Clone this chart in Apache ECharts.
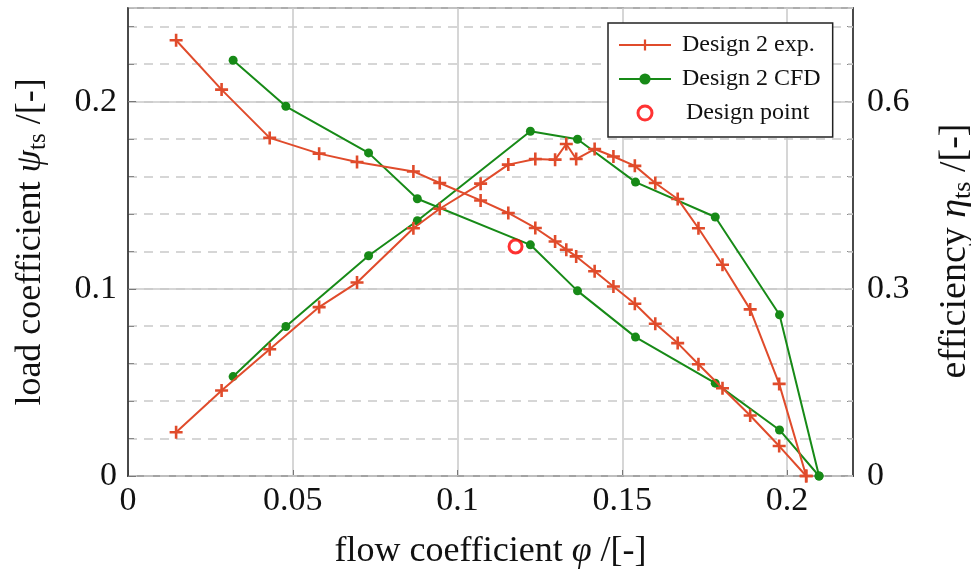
<!DOCTYPE html>
<html>
<head>
<meta charset="utf-8">
<script src="https://cdn.jsdelivr.net/npm/echarts@6/dist/echarts.min.js"></script>
<style>
html,body{margin:0;padding:0;background:#fff;overflow:hidden;}
#c{width:971px;height:572px;}
</style>
</head>
<body>
<div id="c"></div>
<script>
// ---- data ----
const expPhi  = [0.0146, 0.0284, 0.043, 0.058, 0.0695, 0.0866, 0.0946, 0.107, 0.1154, 0.1236, 0.1296, 0.133, 0.136, 0.1416, 0.1473, 0.1538, 0.16, 0.1668, 0.1731, 0.1804, 0.1888, 0.1976, 0.2058];
const expLoad = [0.2328, 0.2064, 0.1806, 0.1722, 0.1677, 0.1627, 0.1565, 0.1472, 0.1405, 0.1325, 0.1253, 0.1209, 0.1173, 0.1094, 0.1012, 0.092, 0.0813, 0.071, 0.0597, 0.0469, 0.0323, 0.016, 0];
const expEff  = [0.0701, 0.1369, 0.2032, 0.2707, 0.310, 0.397, 0.4283, 0.4685, 0.499, 0.508, 0.507, 0.532, 0.508, 0.524, 0.512, 0.497, 0.4695, 0.444, 0.397, 0.3385, 0.267, 0.1476, 0];
const cfdPhi  = [0.0319, 0.0479, 0.073, 0.0878, 0.1221, 0.1364, 0.154, 0.1782, 0.1977, 0.2097];
const cfdLoad = [0.2221, 0.1975, 0.1726, 0.1481, 0.1235, 0.0989, 0.0742, 0.0496, 0.0246, 0];
const cfdEff  = [0.1593, 0.2396, 0.353, 0.409, 0.5524, 0.5396, 0.471, 0.415, 0.2583, 0];
const designPhi = [0.1176];
const designPsi = [0.1226];
const seriesNames = ['Design 2 exp.', 'Design 2 CFD', 'Design point'];

const RED = '#e04b2b', GREEN = '#178a17', DP = '#ff0000';
const FONT = 'Liberation Serif';
const GRIDC = '#c9c9c9';
const plus = 'path://M-1.2,-6 H1.2 V-1.2 H6 V1.2 H1.2 V6 H-1.2 V1.2 H-6 V-1.2 H-1.2 Z';

function pairs(xs, ys){ return xs.map((x,i)=>[x, ys[i]]); }

const chart = echarts.init(document.getElementById('c'), null, {renderer:'canvas'});
const tickLabel = {color:'#111', fontFamily:FONT, fontSize:34};
function richSet(fs){
  return {
    a:{fontFamily:FONT, fontSize:fs, color:'#111'},
    i:{fontFamily:FONT, fontSize:fs, fontStyle:'italic', color:'#111'},
    s:{fontFamily:FONT, fontSize:Math.round(fs*0.69), color:'#111', padding:[Math.round(fs*0.42),0,0,0]}
  };
}

chart.setOption({
  animation:false,
  backgroundColor:'#fff',
  grid:{left:128, right:118, top:8, bottom:96, show:true, borderColor:'#2a2a2a', borderWidth:1.5,
        backgroundColor:'transparent', containLabel:false, outerBoundsMode:'none'},
  legend:{
    data:[
      {name:seriesNames[0]},
      {name:seriesNames[1]},
      {name:seriesNames[2], icon:'circle', itemStyle:{color:'#fff', borderColor:DP, borderWidth:3},
       textStyle:{padding:[0,0,0,10]}}
    ],
    orient:'vertical', left:608, top:23,
    padding:[10,12,12,10], itemGap:10, itemWidth:52, itemHeight:14,
    backgroundColor:'#fff', borderColor:'#222', borderWidth:1.5, borderRadius:0,
    textStyle:{fontFamily:FONT, fontSize:24, color:'#111', padding:[0,0,0,6]}
  },
  xAxis:{
    type:'value', min:0, max:0.22, interval:0.05,
    name:'{a|flow coefficient }{i|φ}{a| /[-]}', nameLocation:'middle', nameGap:58,
    nameTextStyle:{rich:richSet(36)},
    axisLine:{show:true, onZero:false, lineStyle:{color:'#2a2a2a', width:1.5}},
    axisTick:{show:true, inside:true, length:6, lineStyle:{color:'#777'}},
    axisLabel:{...tickLabel, margin:8, showMaxLabel:false, formatter:v=>String(+v.toFixed(2))},
    splitLine:{show:true, lineStyle:{color:GRIDC, width:1.5, type:'solid'}}
  },
  yAxis:[
    {
      type:'value', min:0, max:0.25, interval:0.1, position:'left',
      name:'{a|load coefficient }{i|ψ}{s|ts}{a| /[-]}', nameLocation:'middle', nameGap:77, nameRotate:90,
      nameTextStyle:{rich:richSet(36)},
      axisLine:{show:true, lineStyle:{color:'#2a2a2a', width:1.5}},
      axisTick:{show:true, inside:true, length:8, lineStyle:{color:'#777'}},
      axisLabel:{...tickLabel, margin:11, showMaxLabel:false, formatter:v=>String(+v.toFixed(2))},
      splitLine:{show:true, lineStyle:{color:GRIDC, width:1.5, type:'solid'}},
      z:3
    },
    {
      type:'value', min:0, max:0.75, interval:0.3, position:'right',
      name:'{a|efficiency }{i|η}{s|ts}{a| /[-]}', nameLocation:'middle', nameGap:81, nameRotate:90,
      nameTextStyle:{rich:richSet(38), padding:[0,18,0,0]},
      axisLine:{show:true, lineStyle:{color:'#2a2a2a', width:1.5}},
      axisTick:{show:true, inside:true, length:8, lineStyle:{color:'#777'}},
      axisLabel:{...tickLabel, margin:14, showMaxLabel:false, formatter:v=>String(+v.toFixed(2))},
      splitLine:{show:false}
    },
    {
      type:'value', min:0, max:0.25, interval:0.02, position:'left',
      axisLine:{show:false}, axisLabel:{show:false},
      axisTick:{show:true, inside:true, length:6, lineStyle:{color:'#888'}},
      splitLine:{show:true, lineStyle:{color:GRIDC, width:1.5, type:[9,7]}},
      z:1
    },
    {
      type:'value', min:0, max:0.25, interval:0.02, position:'right',
      axisLine:{show:false}, axisLabel:{show:false},
      axisTick:{show:true, inside:true, length:6, lineStyle:{color:'#888'}},
      splitLine:{show:false}
    }
  ],
  series:[
    {name:seriesNames[1], type:'line', yAxisIndex:0, data:pairs(cfdPhi, cfdLoad),
     symbol:'circle', symbolSize:9, lineStyle:{color:GREEN, width:2}, itemStyle:{color:GREEN}, z:3},
    {name:seriesNames[1], type:'line', yAxisIndex:1, data:pairs(cfdPhi, cfdEff),
     symbol:'circle', symbolSize:9, lineStyle:{color:GREEN, width:2}, itemStyle:{color:GREEN}, z:3},
    {name:seriesNames[0], type:'line', yAxisIndex:0, data:pairs(expPhi, expLoad),
     symbol:plus, symbolSize:13, lineStyle:{color:RED, width:2}, itemStyle:{color:RED}, z:4},
    {name:seriesNames[0], type:'line', yAxisIndex:1, data:pairs(expPhi, expEff),
     symbol:plus, symbolSize:13, lineStyle:{color:RED, width:2}, itemStyle:{color:RED}, z:4},
    {name:seriesNames[2], type:'scatter', yAxisIndex:0, data:pairs(designPhi, designPsi),
     symbol:'circle', symbolSize:13, itemStyle:{color:'#fff', borderColor:DP, borderWidth:3}, z:5}
  ]
});
</script>
</body>
</html>
